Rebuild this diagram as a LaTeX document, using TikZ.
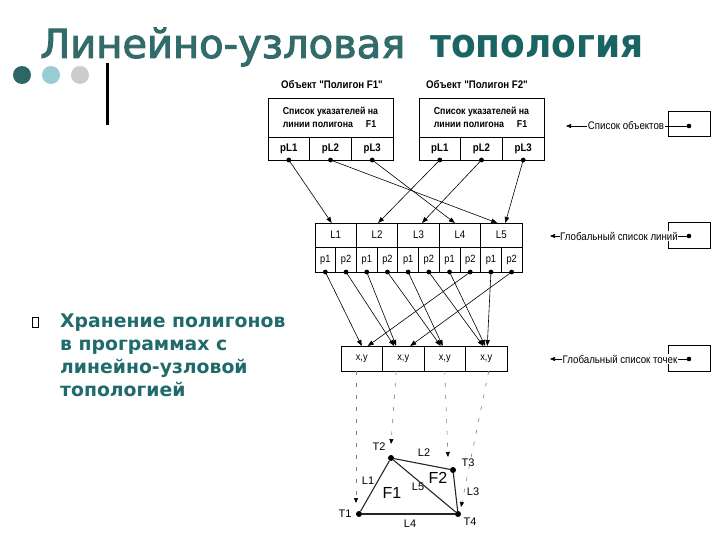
\documentclass[tikz,border=0pt]{standalone}
\usepackage{fontspec}
\usepackage{graphicx}
\setmainfont{Liberation Sans}
\newfontfamily\titlefont[FakeBold=2.5]{DejaVu Sans}
\newfontfamily\titleboldfont[FakeStretch=0.9]{DejaVu Sans Bold}
\newfontfamily\bodyfont{DejaVu Sans}
\newfontfamily\diagfont[FakeStretch=0.88]{Liberation Sans}
\usetikzlibrary{arrows.meta,calc}
\definecolor{tealA}{HTML}{336B6B}
\definecolor{tealB}{HTML}{1B6464}
\definecolor{tealC}{HTML}{1F6A6A}
\definecolor{dotA}{HTML}{2E6666}
\definecolor{dotB}{HTML}{9ACDD2}
\definecolor{dotC}{HTML}{CCCCCC}
\newcommand\hdrtxt{\setbox0\hbox{Список указателей на}\vbox{\copy0\hbox to\wd0{линии полигона\hfill F1\hspace{2pt}}}}
\begin{document}
\begin{tikzpicture}[x=1pt,y=-1pt,
  box/.style={draw=black, line width=0.7pt, inner sep=0pt, outer sep=0pt},
  hdr/.style={box, minimum width=125pt, minimum height=39pt, font=\diagfont\bfseries\fontsize{10}{13}\selectfont},
  plcell/.style={box, minimum width=41.67pt, minimum height=23pt, font=\diagfont\bfseries\fontsize{11}{12}\selectfont},
  lcell/.style={box, minimum width=41.4pt, minimum height=24pt, font=\diagfont\fontsize{11}{12}\selectfont},
  pcell/.style={box, minimum width=20.7pt, minimum height=25pt, font=\diagfont\fontsize{10.5}{12}\selectfont},
  ptcell/.style={box, minimum width=41.5pt, minimum height=25pt, font=\diagfont\fontsize{10.5}{12}\selectfont},
  objlbl/.style={font=\diagfont\bfseries\fontsize{11}{12}\selectfont, inner sep=0pt},
  sidelbl/.style={font=\diagfont\fontsize{11}{12}\selectfont, fill=white, inner sep=0.5pt},
  ptr/.style={line width=0.6pt, -{Triangle[length=6pt,width=4.5pt]}},
  sidearrow/.style={line width=0.6pt, -{Triangle[length=5pt,width=4pt]}},
  dotted col/.style={line width=0.6pt, black!50, dash pattern=on 4pt off 8pt, -{Triangle[length=5pt,width=4pt,black]}},
  geo/.style={line width=1.1pt, black!85},
  geolbl/.style={font=\fontsize{11}{12}\selectfont, inner sep=0pt},
  vtx/.style={circle, fill=black, inner sep=0pt, minimum size=6pt}
]
\useasboundingbox (0,0) rectangle (720,540);

% title
\node[anchor=base west, inner sep=0pt, text=tealA, font=\titlefont\fontsize{40}{44}\selectfont] (t1) at (40,58) {Линейно-узловая};
\node[anchor=base west, inner sep=0pt, text=tealB, font=\titleboldfont\fontsize{40}{44}\selectfont] (t2) at (430,58) {топология};

% decoration
\fill[dotA] (22,75) circle (9);
\fill[dotB] (51,75) circle (9);
\fill[dotC] (80,75) circle (9);
\draw[line width=3pt] (107,63) -- (107,125);

% bullet
\draw[line width=0.6pt] (32,317) rectangle (38,327);
\node[anchor=north west, inner sep=0pt, text=tealC, align=left, font=\bodyfont\bfseries\fontsize{18.8}{23}\selectfont] (bt) at (60,314) {Хранение полигонов\\в программах с\\линейно-узловой\\топологией};

% object labels
\node[objlbl] (o1) at (332,85) {Объект "Полигон F1"};
\node[objlbl] (o2) at (477,85) {Объект "Полигон F2"};

% polygon boxes
\node[hdr] (h1) at (330.5,117.5) {\hdrtxt};
\node[plcell] (a1) at (288.8,148.5) {pL1};
\node[plcell] (a2) at (330.5,148.5) {pL2};
\node[plcell] (a3) at (372.2,148.5) {pL3};
\node[hdr] (h2) at (481.5,117.5) {\hdrtxt};
\node[plcell] (b1) at (439.8,148.5) {pL1};
\node[plcell] (b2) at (481.5,148.5) {pL2};
\node[plcell] (b3) at (523.2,148.5) {pL3};

% line list
\node[lcell] (L1) at (335.7,235) {L1};
\node[lcell] (L2) at (377.1,235) {L2};
\node[lcell] (L3) at (418.5,235) {L3};
\node[lcell] (L4) at (459.9,235) {L4};
\node[lcell] (L5) at (501.3,235) {L5};
\foreach \i/\x in {1/325.35,2/366.75,3/408.15,4/449.55,5/490.95}{
  \node[pcell] (L\i a) at (\x,259.5) {p1};
}
\foreach \i/\x in {1/346.05,2/387.45,3/428.85,4/470.25,5/511.65}{
  \node[pcell] (L\i b) at (\x,259.5) {p2};
}

% point list
\node[ptcell] (P1) at (361.75,358.5) {x,y};
\node[ptcell] (P2) at (403.25,358.5) {x,y};
\node[ptcell] (P3) at (444.75,358.5) {x,y};
\node[ptcell] (P4) at (486.25,358.5) {x,y};

% pointers polygon -> lines
\foreach \n in {a1,a2,a3,b1,b2,b3}{\fill (\n.south) circle (2.4);}
\draw[ptr] (a1.south) -- ([xshift=-4pt]L1.north);
\draw[ptr] (a2.south) -- ([xshift=-4pt]L5.north);
\draw[ptr] (a3.south) -- ([xshift=-5pt]L4.north);
\draw[ptr] (b1.south) -- ([xshift=1pt]L2.north);
\draw[ptr] (b2.south) -- ([xshift=3.5pt]L3.north);
\draw[ptr] (b3.south) -- ([xshift=4pt]L5.north);

% pointers lines -> points
\foreach \n in {L1a,L1b,L2a,L2b,L3a,L3b,L4a,L4b,L5a,L5b}{\fill (\n.south) circle (2.4);}
\draw[ptr] (L1a.south) -- ([xshift=0pt]P1.north);
\draw[ptr] (L1b.south) -- ([xshift=-9pt]P2.north);
\draw[ptr] (L2a.south) -- ([xshift=-7pt]P2.north);
\draw[ptr] (L2b.south) -- ([xshift=-4pt]P3.north);
\draw[ptr] (L3a.south) -- ([xshift=-2pt]P3.north);
\draw[ptr] (L3b.south) -- ([xshift=-3pt]P4.north);
\draw[ptr] (L4a.south) -- ([xshift=-1pt]P4.north);
\draw[ptr] (L4b.south) -- ([xshift=6pt]P1.north);
\draw[ptr] (L5a.south) -- ([xshift=1pt]P4.north);
\draw[ptr] (L5b.south) -- ([xshift=7pt]P2.north);

% side list boxes
\node[box, minimum width=42pt, minimum height=25pt] (s1) at (689,123.5) {};
\node[box, minimum width=42pt, minimum height=26pt] (s2) at (689,235) {};
\node[box, minimum width=42pt, minimum height=26pt] (s3) at (689,358.5) {};
\coordinate (e1) at (566,126);
\coordinate (e2) at (550,236);
\coordinate (e3) at (550,359);
\fill (689,126) circle (2.3);
\fill (689,236) circle (2.3);
\fill (689,359) circle (2.3);
\draw[sidearrow] (689,126) -- (e1);
\draw[sidearrow] (689,236) -- (e2);
\draw[sidearrow] (689,359) -- (e3);
\node[sidelbl] (n1) at (626,126) {Список объектов};
\node[sidelbl] (n2) at (619,236) {Глобальный список линий};
\node[sidelbl] (n3) at (620,359) {Глобальный список точек};

% geometry
\node[vtx] (T1) at (359,514) {};
\node[vtx] (T2) at (391,458) {};
\node[vtx] (T3) at (453,470) {};
\node[vtx] (T4) at (458,514) {};
\draw[geo] (T1) -- (T2);
\draw[geo] (T2) -- (T3);
\draw[geo] (T3) -- (T4);
\draw[geo] (T1) -- (T4);
\draw[geo] (T2) -- (T4);
\node[geolbl] at (345,514) {T1};
\node[geolbl] at (379,447) {T2};
\node[geolbl] at (468,463) {T3};
\node[geolbl] at (470,522) {T4};
\node[geolbl] at (368,481) {L1};
\node[geolbl] at (424,453) {L2};
\node[geolbl] at (473,492) {L3};
\node[geolbl] at (410,524) {L4};
\node[geolbl] at (418,487) {L5};
\node[geolbl, font=\fontsize{16}{18}\selectfont] at (392,493) {F1};
\node[geolbl, font=\fontsize{16}{18}\selectfont] at (438,478) {F2};

% dashed links points -> geometry
\coordinate (d1) at (356,503);
\coordinate (d2) at (391,444);
\coordinate (d3) at (448,457);
\coordinate (d4) at (461,507);
\draw[dotted col] ([xshift=-5.75pt]P1.south) -- (d1);
\draw[dotted col] ([xshift=-7pt]P2.south) -- (d2);
\draw[dotted col] ([xshift=0pt]P3.south) -- (d3);
\draw[dotted col] ([xshift=2.5pt]P4.south) -- (d4);
\end{tikzpicture}
\end{document}
